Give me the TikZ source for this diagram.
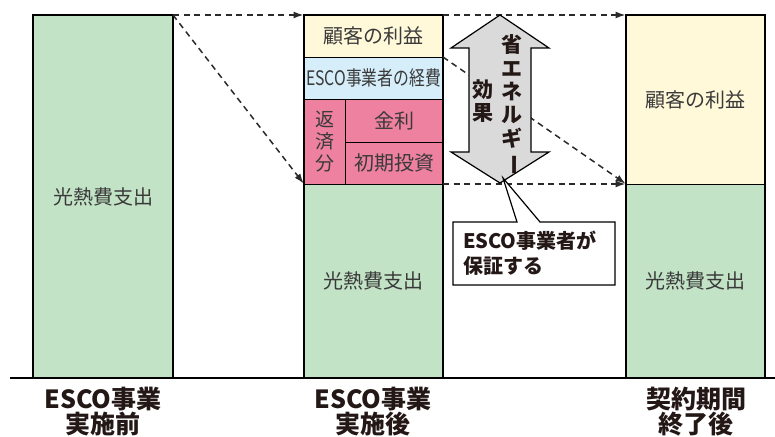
\documentclass[tikz,border=0pt]{standalone}
\usepackage{fontspec}
\setmainfont{Noto Sans CJK JP}
\usetikzlibrary{arrows.meta}
\definecolor{cgreen}{HTML}{C2E3C6}
\definecolor{cyellow}{HTML}{FFF9DA}
\definecolor{cblue}{HTML}{D5EEFA}
\definecolor{cpink}{HTML}{EE80A0}
\definecolor{cgray}{HTML}{DADADA}
\definecolor{ctext}{HTML}{3A3A3A}
\definecolor{cdark}{HTML}{231815}
\definecolor{cdash}{HTML}{2A2A2A}
\begin{document}
\begin{tikzpicture}[x=1pt,y=-1pt,
  cell/.style={draw=black, line width=1pt, inner sep=0pt, outer sep=0pt, anchor=north west,
    text=ctext, font=\fontsize{20}{24}\selectfont},
  outline/.style={draw=black, line width=2pt},
  dasharr/.style={draw=cdash, line width=1.5pt, dash pattern=on 6pt off 4.5pt,
    -{Latex[length=10pt,width=7pt]}, shorten >=0.5pt},
  botlabel/.style={font=\bfseries\fontsize{25}{25}\selectfont, text=cdark, align=center, inner sep=0pt},
  vtext/.style={font=\bfseries\fontsize{21}{23.4}\selectfont, text=cdark, align=center, inner sep=0pt}
]
\useasboundingbox (0,0) rectangle (775,436);

% left column
\node[cell, fill=cgreen, minimum width=140pt, minimum height=363pt] (a) at (33,15) {光熱費支出};
\draw[outline] (a.north west) rectangle (a.south east);

% middle column
\node[cell, fill=cyellow, minimum width=139pt, minimum height=42pt] (b1) at (304,15) {顧客の利益};
\node[cell, fill=cblue, minimum width=139pt, minimum height=42pt] (b2) at (304,57) {\scalebox{0.79}[1]{ESCO事業者の経費}};
\node[cell, fill=cpink, minimum width=41pt, minimum height=85pt, align=center,
  font=\fontsize{19}{22}\selectfont] (b3a) at (304,99) {返\\済\\分};
\node[cell, fill=cpink, minimum width=98pt, minimum height=43pt] (b3b) at (345,99) {金利};
\node[cell, fill=cpink, minimum width=98pt, minimum height=42pt] (b3c) at (345,142) {初期投資};
\node[cell, fill=cgreen, minimum width=139pt, minimum height=194pt] (b4) at (304,184) {光熱費支出};
\draw[outline] (b1.north west) rectangle (b4.south east);

% right column
\node[cell, fill=cyellow, minimum width=139pt, minimum height=169pt] (c1) at (626,15) {顧客の利益};
\node[cell, fill=cgreen, minimum width=139pt, minimum height=194pt] (c2) at (626,184) {光熱費支出};
\draw[outline] (c1.north west) rectangle (c2.south east);

% baseline
\coordinate (bl0) at (10,378);
\coordinate (bl1) at (775,378);
\draw[line width=2pt] (bl0) -- (bl1);

% dashed arrows
\draw[dasharr] (a.north east) -- (b1.north west);
\draw[dasharr] (a.north east) -- (b4.north west);
\draw[dasharr] (b1.north east) -- (c1.north west);
\draw[dasharr] (b1.south east) -- (c2.north west);
\draw[dasharr] (b4.north east) -- (c2.north west);

% double arrow
\path[fill=cgray, draw=black, line width=1.2pt]
  (500,15) -- (549,48) -- (531,48) -- (531,152) -- (549,152) -- (500,183)
  -- (451,152) -- (469,152) -- (469,48) -- (451,48) -- cycle;
\node[vtext] (v1) at (512,105) {省\\エ\\ネ\\ル\\ギ\\\rotatebox[origin=c]{-90}{ー}};
\node[vtext] (v2) at (483,101) {効\\果};

% callout
\coordinate (arrtip) at (503,178);
\path[fill=white, draw=black, line width=1.2pt]
  (453,222) -- (517,222) -- (arrtip) -- (540,222) -- (615,222) -- (615,285) -- (453,285) -- cycle;
\node[inner sep=0pt, text width=142pt, align=left, text=cdark,
  font=\bfseries\fontsize{20}{25}\selectfont] (call) at (534,253.5) {ESCO事業者が\\保証する};

% bottom labels
\node[botlabel] (la) at (103,412) {ESCO事業\\実施前};
\node[botlabel] (lb) at (373,412) {ESCO事業\\実施後};
\node[botlabel] (lc) at (696,412) {契約期間\\終了後};
\end{tikzpicture}
\end{document}
